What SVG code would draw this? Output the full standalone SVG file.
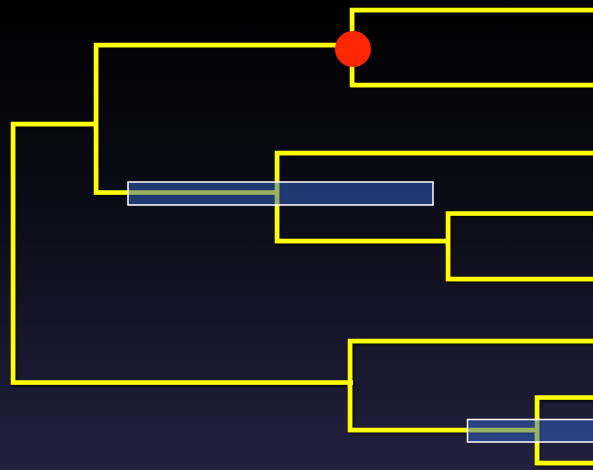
<svg xmlns="http://www.w3.org/2000/svg" width="593" height="470" viewBox="0 0 593 470">
<defs>
<linearGradient id="bg" x1="0" y1="0" x2="0" y2="1">
<stop offset="0" stop-color="#000000"/>
<stop offset="0.5" stop-color="#0e0e1b"/>
<stop offset="1" stop-color="#23203e"/>
</linearGradient>
<filter id="sh" x="-10%" y="-10%" width="120%" height="120%">
<feDropShadow dx="1.5" dy="2" stdDeviation="1" flood-color="#000" flood-opacity="0.7"/>
</filter>
</defs>
<style>
.edge{fill:none;stroke:#ffff00;stroke-width:4.5;stroke-linejoin:miter;stroke-linecap:butt}
.bar{fill:#3366cc;fill-opacity:0.5;stroke:#ffffff;stroke-width:1.5}
</style>
<rect width="593" height="470" fill="url(#bg)"/>
<g id="connectors" filter="url(#sh)">
<path class="edge" d="M96,124 H13 V382.5 H353"/>
<path class="edge" d="M352,45 H96 V192.5 H277"/>
<path class="edge" d="M593,10 H352 V85 H593"/>
<path class="edge" d="M593,153 H277 V241 H448"/>
<path class="edge" d="M593,213.5 H448 V279 H593"/>
<path class="edge" d="M593,341 H350 V430 H537"/>
<path class="edge" d="M593,397.5 H537 V463 H593"/>
</g>
<g id="node-marker">
<circle cx="353" cy="49" r="18" fill="#ff2600"/>
</g>
<g id="bar-1">
<rect class="bar" x="128" y="182" width="305" height="23"/>
</g>
<g id="bar-2">
<rect class="bar" x="467.5" y="419.5" width="135" height="22.5"/>
</g>
</svg>
